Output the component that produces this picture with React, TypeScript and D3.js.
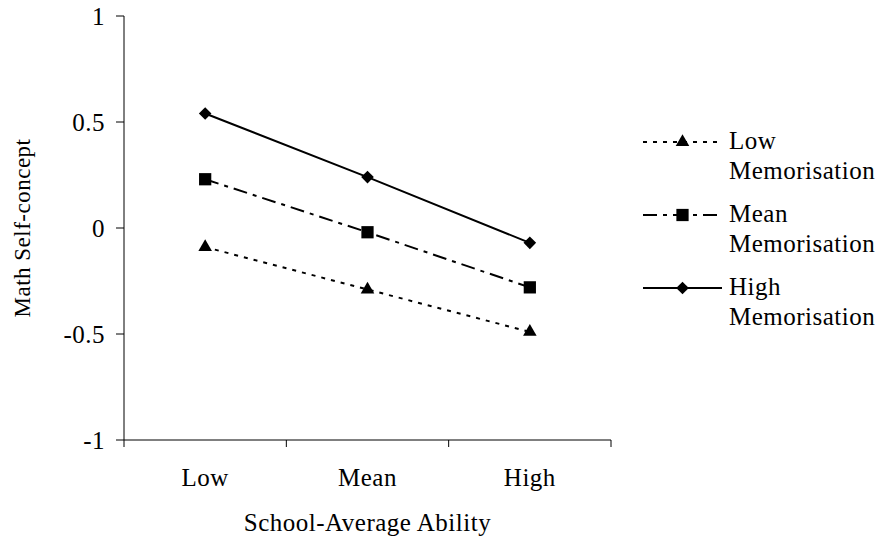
import React from "react";
import * as d3 from "d3";

const categories = ["Low", "Mean", "High"];
const yTicks = [-1, -0.5, 0, 0.5, 1];
const seriesNames = ["Low", "Mean", "High"];
const lowMemorisation = [-0.09, -0.29, -0.49];
const meanMemorisation = [0.23, -0.02, -0.28];
const highMemorisation = [0.54, 0.24, -0.07];

const FONT = "'Liberation Serif', 'Times New Roman', serif";
const FS = 25;
const LS = 0.5;

type Marker = "triangle" | "square" | "diamond";
const series: { name: string; values: number[]; dash: string | null; marker: Marker }[] = [
  { name: seriesNames[0], values: lowMemorisation, dash: "4,6", marker: "triangle" },
  { name: seriesNames[1], values: meanMemorisation, dash: "14,6,4,6", marker: "square" },
  { name: seriesNames[2], values: highMemorisation, dash: null, marker: "diamond" },
];

function markerPath(m: Marker): string {
  if (m === "triangle") return d3.symbol(d3.symbolTriangle, 80)()!;
  if (m === "square") return d3.symbol(d3.symbolSquare, 150)()!;
  return "M0,-6.3L6.3,0L0,6.3L-6.3,0Z";
}

export default function App() {
  const W = 879, H = 540;
  const x0 = 124, x1 = 611, yTop = 16, yBot = 440;
  const x = d3.scaleBand<string>().domain(categories).range([x0, x1]).padding(0);
  const y = d3.scaleLinear().domain([-1, 1]).range([yBot, yTop]);
  const cx = (c: string) => (x(c) ?? 0) + x.bandwidth() / 2;
  const line = d3
    .line<number>()
    .x((_, i) => cx(categories[i]))
    .y((d) => y(d));
  const bounds = [...categories.map((c) => x(c) ?? 0), x1];

  const legendX0 = 643, legendX1 = 722, legendTextX = 729;
  const legendY = [142, 215, 288];

  return (
    <svg width={W} height={H} style={{ display: "block", position: "absolute", left: 0, top: 0 }} fontFamily={FONT} letterSpacing={LS}>
      <rect width={W} height={H} fill="#fff" />
      {/* Y axis */}
      <line x1={x0} x2={x0} y1={yTop} y2={yBot} stroke="#000" strokeWidth={1} />
      {yTicks.map((t) => (
        <g key={t}>
          <line x1={x0 - 8} x2={x0} y1={y(t)} y2={y(t)} stroke="#000" />
          <text x={105} y={y(t)} dy="0.35em" textAnchor="end" fontSize={FS}>
            {t}
          </text>
        </g>
      ))}
      {/* X axis */}
      <line x1={x0} x2={x1} y1={yBot} y2={yBot} stroke="#000" />
      {bounds.map((b, i) => (
        <line key={i} x1={b} x2={b} y1={yBot} y2={yBot + 7} stroke="#000" />
      ))}
      {categories.map((c) => (
        <text key={c} x={cx(c)} y={486} textAnchor="middle" fontSize={FS}>
          {c}
        </text>
      ))}
      <text x={(x0 + x1) / 2} y={531} textAnchor="middle" fontSize={FS}>
        School-Average Ability
      </text>
      <text transform={`translate(30,${(yTop + yBot) / 2}) rotate(-90)`} textAnchor="middle" fontSize={23}>
        Math Self-concept
      </text>
      {/* Series */}
      {series.map((s) => (
        <g key={s.name}>
          <path d={line(s.values) ?? ""} fill="none" stroke="#000" strokeWidth={2} strokeDasharray={s.dash ?? undefined} />
          {s.values.map((v, i) => (
            <path key={i} d={markerPath(s.marker)} transform={`translate(${cx(categories[i])},${y(v)})`} fill="#000" />
          ))}
        </g>
      ))}
      {/* Legend */}
      {series.map((s, i) => (
        <g key={s.name}>
          <line x1={legendX0} x2={legendX1} y1={legendY[i]} y2={legendY[i]} stroke="#000" strokeWidth={2} strokeDasharray={s.dash ?? undefined} />
          <path d={markerPath(s.marker)} transform={`translate(${(legendX0 + legendX1) / 2},${legendY[i]})`} fill="#000" />
          <text x={legendTextX} y={legendY[i] + 7} fontSize={FS}>
            {s.name}
          </text>
          <text x={legendTextX} y={legendY[i] + 37} fontSize={FS}>
            Memorisation
          </text>
        </g>
      ))}
    </svg>
  );
}
